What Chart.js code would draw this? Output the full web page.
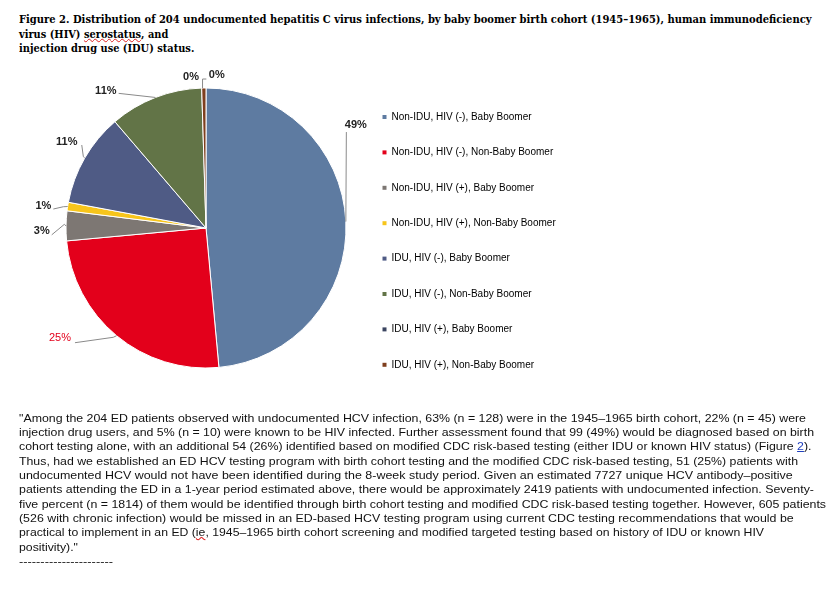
<!DOCTYPE html>
<html>
<head>
<meta charset="utf-8">
<script src="https://cdn.jsdelivr.net/npm/chart.js@4.4.0/dist/chart.umd.min.js"></script>
<style>
  html, body { margin: 0; padding: 0; background: #fff; }
  body { width: 833px; height: 589px; position: relative; overflow: hidden; }
  #pie { position: absolute; left: 0; top: 0; }
  .ln { position: absolute; left: 19px; white-space: nowrap; }
  .ln span { display: inline-block; transform-origin: 0 0; }
  .title { font-family: "DejaVu Serif Condensed", "DejaVu Serif", serif; font-weight: bold; font-size: 11.5px; line-height: 15px; color: #000; }
  .para { font-family: "Liberation Sans", Arial, sans-serif; font-size: 11.5px; line-height: 14.35px; color: #111; }
  .squig { text-decoration: underline wavy #d22; text-decoration-thickness: 1px; text-underline-offset: 0px; }
  .link { color: #1f3fbf; text-decoration: underline; }
</style>
</head>
<body>
<div class="ln title" style="top:11.8px"><span data-w="792.5">Figure 2. Distribution of 204 undocumented hepatitis C virus infections, by baby boomer birth cohort (1945–1965), human immunodeficiency</span></div>
<div class="ln title" style="top:26.8px"><span data-w="149.3">virus (HIV) <span class="squig">serostatus</span>, and</span></div>
<div class="ln title" style="top:41.2px"><span data-w="175.3">injection drug use (IDU) status.</span></div>

<canvas id="pie" width="600" height="420"></canvas>

<div class="ln para" style="top:410.5px"><span data-w="787">"Among the 204 ED patients observed with undocumented HCV infection, 63% (n = 128) were in the 1945–1965 birth cohort, 22% (n = 45) were</span></div>
<div class="ln para" style="top:424.85px"><span data-w="795">injection drug users, and 5% (n = 10) were known to be HIV infected. Further assessment found that 99 (49%) would be diagnosed based on birth</span></div>
<div class="ln para" style="top:439.2px"><span data-w="792.5">cohort testing alone, with an additional 54 (26%) identified based on modified CDC risk-based testing (either IDU or known HIV status) (Figure <span class="link">2</span>).</span></div>
<div class="ln para" style="top:453.55px"><span data-w="779">Thus, had we established an ED HCV testing program with birth cohort testing and the modified CDC risk-based testing, 51 (25%) patients with</span></div>
<div class="ln para" style="top:467.9px"><span data-w="773.7">undocumented HCV would not have been identified during the 8-week study period. Given an estimated 7727 unique HCV antibody–positive</span></div>
<div class="ln para" style="top:482.25px"><span data-w="795">patients attending the ED in a 1-year period estimated above, there would be approximately 2419 patients with undocumented infection. Seventy-</span></div>
<div class="ln para" style="top:496.6px"><span data-w="807">five percent (n = 1814) of them would be identified through birth cohort testing and modified CDC risk-based testing together. However, 605 patients</span></div>
<div class="ln para" style="top:510.95px"><span data-w="774.7">(526 with chronic infection) would be missed in an ED-based HCV testing program using current CDC testing recommendations that would be</span></div>
<div class="ln para" style="top:525.3px"><span data-w="745">practical to implement in an ED (<span class="squig">ie</span>, 1945–1965 birth cohort screening and modified targeted testing based on history of IDU or known HIV</span></div>
<div class="ln para" style="top:539.65px"><span data-w="59">positivity)."</span></div>
<div class="ln para" style="top:554px"><span data-w="94">----------------------</span></div>

<script>
// data (counts out of 204)
const categories = [
    "Non-IDU, HIV (-), Baby Boomer",
    "Non-IDU, HIV (-), Non-Baby Boomer",
    "Non-IDU, HIV (+), Baby Boomer",
    "Non-IDU, HIV (+), Non-Baby Boomer",
    "IDU, HIV (-), Baby Boomer",
    "IDU, HIV (-), Non-Baby Boomer",
    "IDU, HIV (+), Baby Boomer",
    "IDU, HIV (+), Non-Baby Boomer"
];
const counts = [99, 51, 7, 2, 22, 22, 0, 1];

const sliceColors = ["#5e7ba1", "#e3001b", "#7d7773", "#f7c51b", "#4f5b85", "#627447", "#3b4560", "#7f3f1e"];

// label centre and leader points, relative to the slice's outer edge point
const labelOffsets = [[10, -97], [-56.6, 2.1], [-24.3, 5.5], [-24.3, -0.3], [-18, -16.3], [-49.6, -6.2], [-10.7, -11], [12.9, -12.7]];
const leaders = [
    [[0, 0], [0.5, -89.5]],
    [[0, 0], [-3.3, 1.6], [-41.6, 7]],
    [[0, 0], [-1.7, -1.5], [-14.3, 9]],
    [[0, 0], [-4.3, 0.2], [-14.3, 2.5]],
    [[0, 0], [-1.4, -1.3], [-3, -13]],
    [[0, 0], [-36.8, -4.1]],
    [],
    [[-1.3, 0], [-1.3, -9], [2.5, -9]]
];

// fit each text line to its measured width
document.querySelectorAll(".ln > span").forEach(s => {
    const w = parseFloat(s.dataset.w);
    s.style.transform = `scaleX(${w / s.getBoundingClientRect().width})`;
});

const sliceLabels = {
    id: "sliceLabels",
    afterDatasetsDraw(chart) {
        const ctx = chart.ctx;
        const total = counts.reduce((a, b) => a + b, 0);
        chart.getDatasetMeta(0).data.forEach((arc, i) => {
            const p = arc.getProps(["x", "y", "startAngle", "endAngle", "outerRadius"], true);
            const mid = (p.startAngle + p.endAngle) / 2;
            const ex = p.x + Math.cos(mid) * p.outerRadius;
            const ey = p.y + Math.sin(mid) * p.outerRadius;

            ctx.save();
            const pts = leaders[i];
            if (pts.length) {
                ctx.strokeStyle = "#8a8a8a";
                ctx.lineWidth = 1;
                ctx.beginPath();
                pts.forEach(([dx, dy], k) => k ? ctx.lineTo(ex + dx, ey + dy) : ctx.moveTo(ex + dx, ey + dy));
                ctx.stroke();
            }
            const red = i === 1;
            ctx.font = (red ? "" : "bold ") + "11px 'Liberation Sans', Arial, sans-serif";
            ctx.fillStyle = red ? "#e3001b" : "#222";
            ctx.textAlign = "center";
            ctx.textBaseline = "middle";
            ctx.fillText(Math.round(counts[i] / total * 100) + "%", ex + labelOffsets[i][0], ey + labelOffsets[i][1]);
            ctx.restore();
        });
    }
};

new Chart(document.getElementById("pie").getContext("2d"), {
    type: "pie",
    data: {
        labels: categories,
        datasets: [{
            data: counts,
            backgroundColor: sliceColors,
            borderColor: "#fff",
            borderWidth: 1,
            radius: 140
        }]
    },
    options: {
        responsive: false,
        animation: false,
        devicePixelRatio: 1,
        layout: { padding: { left: 54.9, right: 42.9, top: 50, bottom: 14 } },
        plugins: {
            tooltip: { enabled: false },
            legend: {
                position: "right",
                align: "start",
                maxWidth: 200,
                title: { display: true, text: "", padding: { top: 22.2, bottom: 0 }, font: { size: 12, lineHeight: 1.2 } },
                labels: {
                    boxWidth: 4,
                    boxHeight: 4,
                    padding: 25.4,
                    color: "#000",
                    font: { family: "'Liberation Sans', Arial, sans-serif", size: 10 },
                    generateLabels(chart) {
                        const items = Chart.overrides.doughnut.plugins.legend.labels.generateLabels(chart);
                        items.forEach(it => { it.lineWidth = 0; });
                        return items;
                    }
                }
            }
        }
    },
    plugins: [sliceLabels]
});
</script>
</body>
</html>
